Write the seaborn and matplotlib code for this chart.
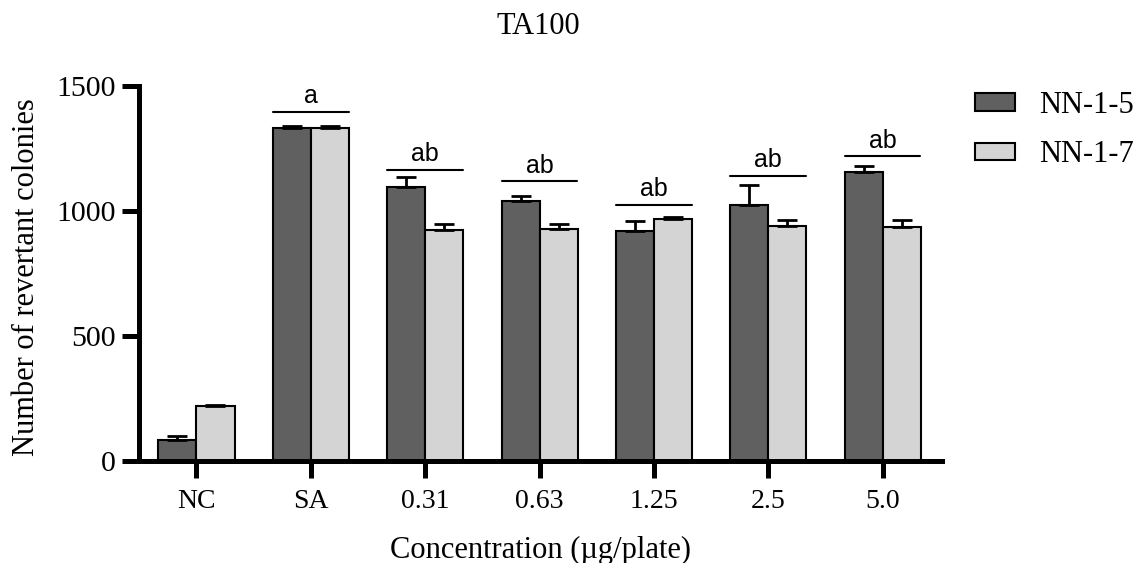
import pandas as pd
import matplotlib.pyplot as plt
import seaborn as sns
from matplotlib.patches import Patch

sns.set_style("ticks")
plt.rcParams["font.family"] = ["Liberation Serif", "DejaVu Serif"]
for key in ["text.color", "axes.labelcolor", "xtick.color", "ytick.color", "axes.edgecolor"]:
    plt.rcParams[key] = "black"

concentrations = ["NC", "SA", "0.31", "0.63", "1.25", "2.5", "5.0"]
nn15_mean = [84, 1330, 1096, 1041, 921, 1025, 1154]
nn15_err = [16, 11, 38, 20, 40, 77, 27]
nn17_mean = [220, 1330, 925, 926, 967, 939, 935]
nn17_err = [5, 10, 24, 23, 10, 24, 30]
letters = ["", "a", "ab", "ab", "ab", "ab", "ab"]
letter_line = [0, 1395, 1165, 1118, 1024, 1141, 1218]

df = pd.DataFrame({
    "conc": concentrations * 2,
    "value": nn15_mean + nn17_mean,
    "err": nn15_err + nn17_err,
    "group": ["NN-1-5"] * 7 + ["NN-1-7"] * 7,
})

palette = {"NN-1-5": "#606060", "NN-1-7": "#d4d4d4"}

fig = plt.figure(figsize=(11.41, 5.63), dpi=100)
ax = fig.add_axes([0.1218, 0.1803, 0.7038, 0.6675])

sns.barplot(
    data=df,
    x="conc",
    y="value",
    hue="group",
    order=concentrations,
    palette=palette,
    width=0.665,
    edgecolor="black",
    linewidth=1.5,
    saturation=1,
    errorbar=None,
    legend=False,
    ax=ax,
)

# upper error bars only, taken from the bar patches
for bars, errs in zip(ax.containers, [nn15_err, nn17_err]):
    for bar, e in zip(bars, errs):
        xc = bar.get_x() + bar.get_width() / 2
        top = bar.get_height()
        ax.errorbar(
            xc, top, yerr=[[0], [e]], fmt="none",
            ecolor="black", elinewidth=2, capsize=7, capthick=2, zorder=1
        )

# significance letters over each group
for i, (lab, yl) in enumerate(zip(letters, letter_line)):
    if not lab:
        continue
    ax.plot([i - 0.33, i + 0.33], [yl, yl], color="black", lw=1.5)
    ax.text(i, yl + 15, lab, ha="center", va="bottom",
            fontsize=18, family=["Liberation Sans", "DejaVu Sans"])

ax.set_ylim(0, 1500)
ax.set_xlim(-0.503, 6.52)
ax.set_yticks([0, 500, 1000, 1500])
sns.despine(ax=ax)
for side in ["left", "bottom"]:
    ax.spines[side].set_linewidth(3.6)
ax.tick_params(axis="both", width=3.6, length=12.5)
ax.tick_params(axis="y", pad=4, labelsize=21.5)
ax.tick_params(axis="x", pad=7, labelsize=20)

ax.set_xlabel("Concentration (µg/plate)", fontsize=22)
ax.set_ylabel("Number of revertant colonies", fontsize=22)
ax.xaxis.set_label_coords(0.5, -0.198)
ax.yaxis.set_label_coords(-0.122, 0.49)
fig.text(538 / 1141, 1 - 27 / 563, "TA100", fontsize=22, ha="center", va="center")

handles = [Patch(facecolor=palette[g], edgecolor="black", linewidth=1.5) for g in palette]
fig.legend(
    handles, list(palette.keys()),
    loc="upper left", bbox_to_anchor=(0.8545, 0.839),
    frameon=False, fontsize=22, handlelength=1.3, handleheight=0.52,
    labelspacing=0.68, handletextpad=0.8, borderpad=0, borderaxespad=0,
)

plt.savefig("out.png", dpi=100)
